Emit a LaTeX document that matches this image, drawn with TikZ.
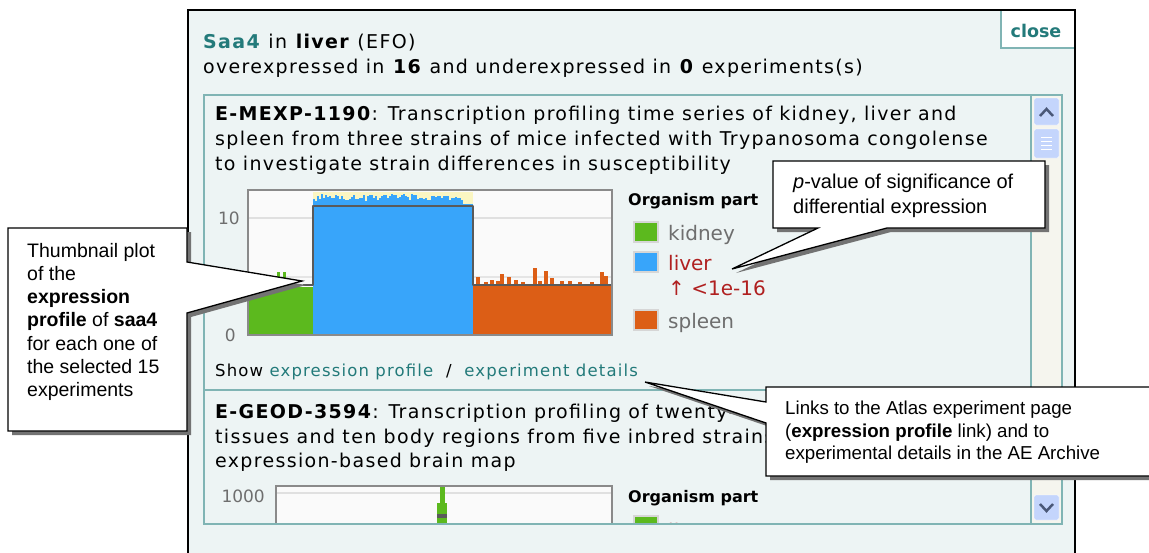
\documentclass[tikz,border=0pt]{standalone}
\usepackage{fontspec}
\setmainfont{DejaVu Sans}[LetterSpace=7]
\newfontfamily\plainfont{DejaVu Sans}
\newfontfamily\notefont{Liberation Sans}
\usetikzlibrary{shadows}

\definecolor{panelbg}{HTML}{EDF4F4}
\definecolor{boxline}{HTML}{80B4B4}
\definecolor{linkteal}{HTML}{237A7A}
\definecolor{kidneygreen}{HTML}{5CB91E}
\definecolor{liverblue}{HTML}{38A5FA}
\definecolor{spleenorange}{HTML}{DC5E16}
\definecolor{pvalred}{HTML}{B02020}
\definecolor{labelgray}{HTML}{6E6E6E}
\definecolor{framegray}{HTML}{8A8A8A}
\definecolor{stepgray}{HTML}{5A5A5A}
\definecolor{bandyellow}{HTML}{FBF6C2}
\definecolor{scrollbtn}{HTML}{C4D5FC}
\definecolor{scrollarrow}{HTML}{4A5878}
\definecolor{scrolltrack}{HTML}{F5F5EE}

\tikzset{
  webtext/.style={anchor=base west, inner sep=0pt, font=\fontsize{19}{25}\selectfont},
  linktext/.style={anchor=base west, inner sep=0pt, font=\fontsize{16.5}{22}\selectfont},
  legtext/.style={anchor=base west, inner sep=0pt, font=\plainfont\fontsize{20}{24}\selectfont, text=labelgray},
  legtitle/.style={anchor=base west, inner sep=0pt, font=\plainfont\bfseries\fontsize{16}{20}\selectfont},
  axislbl/.style={anchor=base east, inner sep=0pt, font=\plainfont\fontsize{17}{20}\selectfont, text=labelgray},
  swatch/.style={draw=black!16, line width=2.5pt},
  notebox/.style={draw=black, line width=1.3pt, fill=white, line join=miter,
    drop shadow={shadow xshift=4pt, shadow yshift=-4pt, fill=black!55, opacity=1}},
  notetext/.style={anchor=north west, align=left, inner sep=0pt},
}

\begin{document}
\begin{tikzpicture}[x=1pt,y=-1pt]
    \useasboundingbox (0,0) rectangle (1149,552);
    \fill[white] (0,0) rectangle (1149,552);

    % popup panel
    \filldraw[fill=panelbg, draw=black, line width=2pt] (188,560) -- (188,10) -- (1075,10) -- (1075,560);
    \fill[white] (1001,11) rectangle (1074,48);
    \draw[boxline, line width=1.2pt] (1001,11) -- (1001,48) -- (1074,48);
    \node[anchor=base, inner sep=0pt, text=linkteal, font=\plainfont\bfseries\fontsize{17.5}{20}\selectfont] (close) at (1036,37) {close};

    \node[webtext] (headA) at (203,48) {\textcolor{linkteal}{\textbf{Saa4}} in \textbf{liver} (EFO)};
    \node[webtext] (headB) at (203,73) {overexpressed in \textbf{16} and underexpressed in \textbf{0} experiments(s)};

    % scroll box
    \fill[panelbg] (204,95) rectangle (1062,524);
    \fill[scrolltrack] (1031,96) rectangle (1061,523);

    % first experiment
    \node[webtext] (mexpA) at (215,120) {\textbf{E-MEXP-1190}: Transcription profiling time series of kidney, liver and};
    \node[webtext] (mexpB) at (215,145) {spleen from three strains of mice infected with Trypanosoma congolense};
    \node[webtext] (mexpC) at (215,170) {to investigate strain differences in susceptibility};

    \fill[black!2] (248,190) rectangle (612,335);
    \draw[black!12, line width=1.5pt] (249,218) -- (611,218);
    \draw[black!10, line width=1.2pt] (249,277) -- (611,277);
    \fill[kidneygreen] (249,287) rectangle (313,334);
    \fill[kidneygreen] (277,272) rectangle (280,287);
    \fill[kidneygreen] (283,272) rectangle (286,287);
    \fill[bandyellow] (313,192) rectangle (473,206);
    \fill[liverblue] (313,204) rectangle (473,334);
    \pgfmathsetseed{11}
    \foreach \bx in {313,315,...,471} {
        \pgfmathsetmacro{\btop}{194+7*rnd+(\bx>457)*(\bx-457)*1.3}
        \fill[liverblue] (\bx,\btop) rectangle (\bx+2,206);
    }
    \fill[spleenorange] (473,284) rectangle (611,334);
    \foreach \sx/\stop in {476/277,484/282,490/280,496/281,500/274,507/277,514/280,521/282,533/268,538/281,544/271,550/278,560/281,568/281,578/282,590/282,600/272,604/276} {
        \fill[spleenorange] (\sx,\stop) rectangle (\sx+4,285);
    }
    \draw[framegray, line width=1.5pt] (248,190) rectangle (612,335);
    \draw[stepgray, line width=2.5pt, line join=round] (303,285) -- (313,285) -- (313,206) -- (473,206) -- (473,285) -- (611,285);
    \node[axislbl] (yten) at (240,224) {10};
    \node[axislbl] (yzero) at (236,341) {0};

    \node[legtitle] (orgA) at (628,205) {Organism part};
    \filldraw[swatch, fill=kidneygreen] (634,222) rectangle (658,242);
    \node[legtext] (kidney) at (668,240) {kidney};
    \filldraw[swatch, fill=liverblue] (634,252) rectangle (658,272);
    \node[legtext, text=pvalred] (liver) at (668,270) {liver};
    \node[legtext, text=pvalred] (pval) at (668,295) {↑ <1e-16};
    \filldraw[swatch, fill=spleenorange] (634,310) rectangle (658,330);
    \node[legtext] (spleen) at (668,328) {spleen};

    \node[linktext] (showlinks) at (215,376) {Show \textcolor{linkteal}{expression profile} ~/~ \textcolor{linkteal}{experiment details}};

    \draw[boxline, line width=1.5pt] (204,390) -- (1031,390);

    % second experiment, cut by the scroll box
    \begin{scope}
        \clip (205,96) rectangle (1030,523);
        \node[webtext] (geodA) at (215,418) {\textbf{E-GEOD-3594}: Transcription profiling of twenty-};
        \node[webtext] (geodB) at (215,443) {tissues and ten body regions from five inbred strains};
        \node[webtext] (geodC) at (215,467) {expression-based brain map};
        \fill[black!2] (276,486) rectangle (612,560);
        \draw[black!12, line width=1.5pt] (277,493) -- (611,493);
        \fill[kidneygreen] (440,486) rectangle (445,505);
        \fill[kidneygreen] (437,503) rectangle (447,560);
        \fill[stepgray] (437,514) rectangle (447,518);
        \draw[framegray, line width=1.5pt] (276,486) rectangle (612,560);
        \node[axislbl] (ythousand) at (265,502) {1000};
        \node[legtitle] (orgB) at (628,502) {Organism part};
        \filldraw[swatch, fill=kidneygreen] (634,516) rectangle (658,536);
        \node[legtext, text=pvalred] (liverB) at (668,538) {liver};
    \end{scope}

    % scroll bar
    \draw[boxline, line width=1.2pt] (1031,95) -- (1031,524);
    \filldraw[fill=scrollbtn, draw=white, rounded corners=2pt] (1034,98) rectangle (1059,125);
    \draw[scrollarrow, line width=2.5pt] (1040,116) -- (1046.5,109) -- (1053,116);
    \filldraw[fill=scrollbtn, draw=white, rounded corners=2pt] (1034,129) rectangle (1059,158);
    \foreach \ty in {137,141,145,149}
        \draw[white, line width=1pt] (1041,\ty) -- (1052,\ty);
    \filldraw[fill=scrollbtn, draw=white, rounded corners=2pt] (1034,495) rectangle (1059,520);
    \draw[scrollarrow, line width=2.5pt] (1040,504) -- (1046.5,511) -- (1053,504);
    \draw[boxline, line width=1.5pt] (204,95) rectangle (1062,524);

    % callouts
    \coordinate (plottip) at (302,281);
    \coordinate (pvaltip) at (732,269);
    \coordinate (linktip) at (645,382);

    \filldraw[notebox] (8,228) -- (187,228) -- (187,262) -- (plottip) -- (187,313) -- (187,431) -- (8,431) -- cycle;
    \node[notetext, font=\notefont\fontsize{19.5}{23.2}\selectfont] (plotnote) at (27,243)
        {Thumbnail plot\\ of the\\ \textbf{expression}\\ \textbf{profile} of \textbf{saa4}\\ for each one of\\ the selected 15\\ experiments};

    \filldraw[notebox] (773,161) -- (1045,161) -- (1045,228) -- (887,228) -- (pvaltip) -- (818,228) -- (773,228) -- cycle;
    \node[notetext, font=\notefont\fontsize{20}{25}\selectfont] (pvalnote) at (793,174)
        {\textit{p}-value of significance of\\ differential expression};

    \filldraw[notebox] (766,387) -- (1160,387) -- (1160,476) -- (766,476) -- (766,423) -- (linktip) -- (766,402) -- cycle;
    \node[notetext, font=\notefont\fontsize{18.7}{22.5}\selectfont] (linknote) at (785,401)
        {Links to the Atlas experiment page\\ (\textbf{expression profile} link) and to\\ experimental details in the AE Archive};
\end{tikzpicture}
\end{document}
